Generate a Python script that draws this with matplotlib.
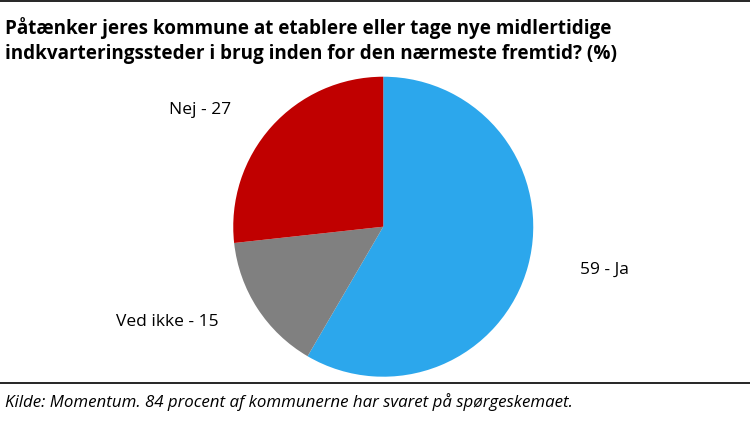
import matplotlib
matplotlib.use("Agg")
import matplotlib.pyplot as plt
from matplotlib.lines import Line2D

categories = ["Ja", "Ved ikke", "Nej"]
values = [59, 15, 27]
colors = ["#2CA7EC", "#808080", "#C00000"]
labels = ["59 - Ja", "Ved ikke - 15", "Nej - 27"]

plt.rcParams['font.family'] = ['Open Sans', 'DejaVu Sans']
fig = plt.figure(figsize=(7.5, 4.21), dpi=100)
ax = fig.add_axes([0.311, 0.105, 0.4, 0.713])
ax.pie(values, colors=colors, startangle=90, counterclock=False,
       wedgeprops=dict(edgecolor="white", linewidth=0))
ax.set_xlim(-1.0, 1.0)
ax.set_ylim(-1.0, 1.0)
ax.set_aspect("equal")

fig.text(0.007, 0.96, "Påtænker jeres kommune at etablere eller tage nye midlertidige\nindkvarteringssteder i brug inden for den nærmeste fremtid? (%)",
         fontsize=13.6, fontweight="bold", va="top", ha="left", linespacing=1.35)
fig.text(0.773, 0.358, labels[0], fontsize=12.5, ha="left", va="center")
fig.text(0.155, 0.235, labels[1], fontsize=12.5, ha="left", va="center")
fig.text(0.225, 0.738, labels[2], fontsize=12.5, ha="left", va="center")
fig.add_artist(Line2D([0, 1], [0.998, 0.998], color="black", lw=1.2, transform=fig.transFigure))
fig.add_artist(Line2D([0, 1], [0.09, 0.09], color="black", lw=1.2, transform=fig.transFigure))
fig.text(0.007, 0.045, "Kilde: Momentum. 84 procent af kommunerne har svaret på spørgeskemaet.",
         fontsize=12.2, style="italic", ha="left", va="center")
fig.savefig("out.png", dpi=100)
